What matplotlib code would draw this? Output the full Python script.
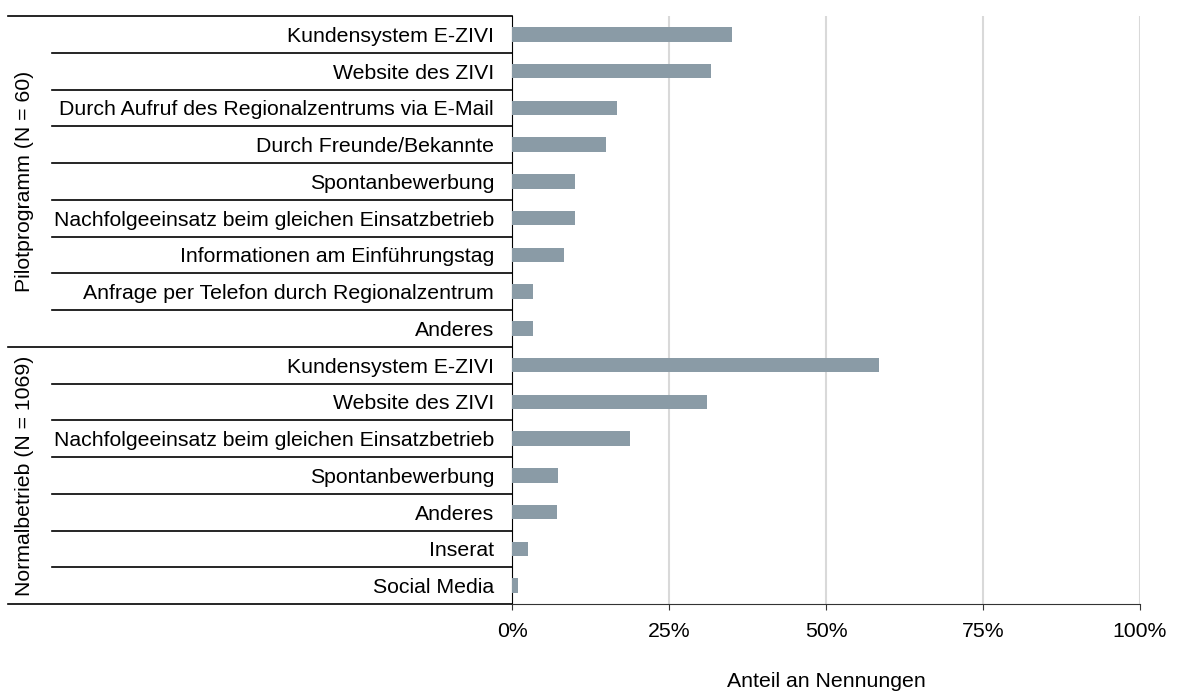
import matplotlib.pyplot as plt
import matplotlib.transforms as mtransforms
from matplotlib.ticker import PercentFormatter

# ---------------------------------------------------------------------------
# Data (share of mentions, in %)
# ---------------------------------------------------------------------------
pilot_group = "Pilotprogramm (N = 60)"
pilot_labels = [
    "Kundensystem E-ZIVI",
    "Website des ZIVI",
    "Durch Aufruf des Regionalzentrums via E-Mail",
    "Durch Freunde/Bekannte",
    "Spontanbewerbung",
    "Nachfolgeeinsatz beim gleichen Einsatzbetrieb",
    "Informationen am Einführungstag",
    "Anfrage per Telefon durch Regionalzentrum",
    "Anderes",
]
pilot_values = [35.0, 31.7, 16.7, 15.0, 10.0, 10.0, 8.3, 3.3, 3.3]

normal_group = "Normalbetrieb (N = 1069)"
normal_labels = [
    "Kundensystem E-ZIVI",
    "Website des ZIVI",
    "Nachfolgeeinsatz beim gleichen Einsatzbetrieb",
    "Spontanbewerbung",
    "Anderes",
    "Inserat",
    "Social Media",
]
normal_values = [58.4, 31.0, 18.8, 7.4, 7.1, 2.5, 1.0]

x_ticks = [0, 25, 50, 75, 100]

# ---------------------------------------------------------------------------
# Figure
# ---------------------------------------------------------------------------
plt.rcParams['font.family'] = ['Liberation Sans', 'DejaVu Sans']
FS = 15.3

W, H = 1177, 695
fig = plt.figure(figsize=(W / 100, H / 100), dpi=100)
ax = fig.add_axes([512 / W, (H - 604) / H, (1140 - 512) / W, (604 - 16) / H])

labels = pilot_labels + normal_labels
values = pilot_values + normal_values
ypos = list(range(len(labels)))

ax.barh(ypos, values, height=0.4, color='#8a9ba6', zorder=3)

ax.set_ylim(len(labels) - 0.5, -0.5)
ax.set_xlim(0, 100)
ax.set_yticks(ypos)
ax.set_yticklabels(labels, fontsize=FS)
ax.tick_params(axis='y', length=0, pad=13)

ax.set_xticks(x_ticks)
ax.xaxis.set_major_formatter(PercentFormatter(decimals=0))
ax.tick_params(axis='x', labelsize=FS, length=4, pad=9, color='#333333')
ax.set_xlabel('Anteil an Nennungen', fontsize=FS, labelpad=22)

ax.grid(axis='x', color='#d9d9d9', linewidth=1.5, zorder=0)
for s in ['top', 'right']:
    ax.spines[s].set_visible(False)
ax.spines['left'].set_color('black')
ax.spines['bottom'].set_color('#333333')

# ---------------------------------------------------------------------------
# Table-like separators left of the axis
# ---------------------------------------------------------------------------
trans = mtransforms.blended_transform_factory(fig.transFigure, ax.transData)
x_row = 52 / W
x_grp = 8 / W
x_end = 512 / W
n_pilot = len(pilot_labels)

for i in range(len(labels) + 1):
    y = i - 0.5
    x0 = x_grp if i in (0, n_pilot, len(labels)) else x_row
    ax.plot([x0, x_end], [y, y], color='black', linewidth=1.2,
            transform=trans, clip_on=False)

ax.text(25 / W, (n_pilot - 1) / 2, pilot_group, rotation=90, fontsize=FS,
        ha='center', va='center', transform=trans)
ax.text(25 / W, n_pilot + (len(normal_labels) - 1) / 2, normal_group,
        rotation=90, fontsize=FS, ha='center', va='center', transform=trans)

plt.savefig('out.png', dpi=100)
